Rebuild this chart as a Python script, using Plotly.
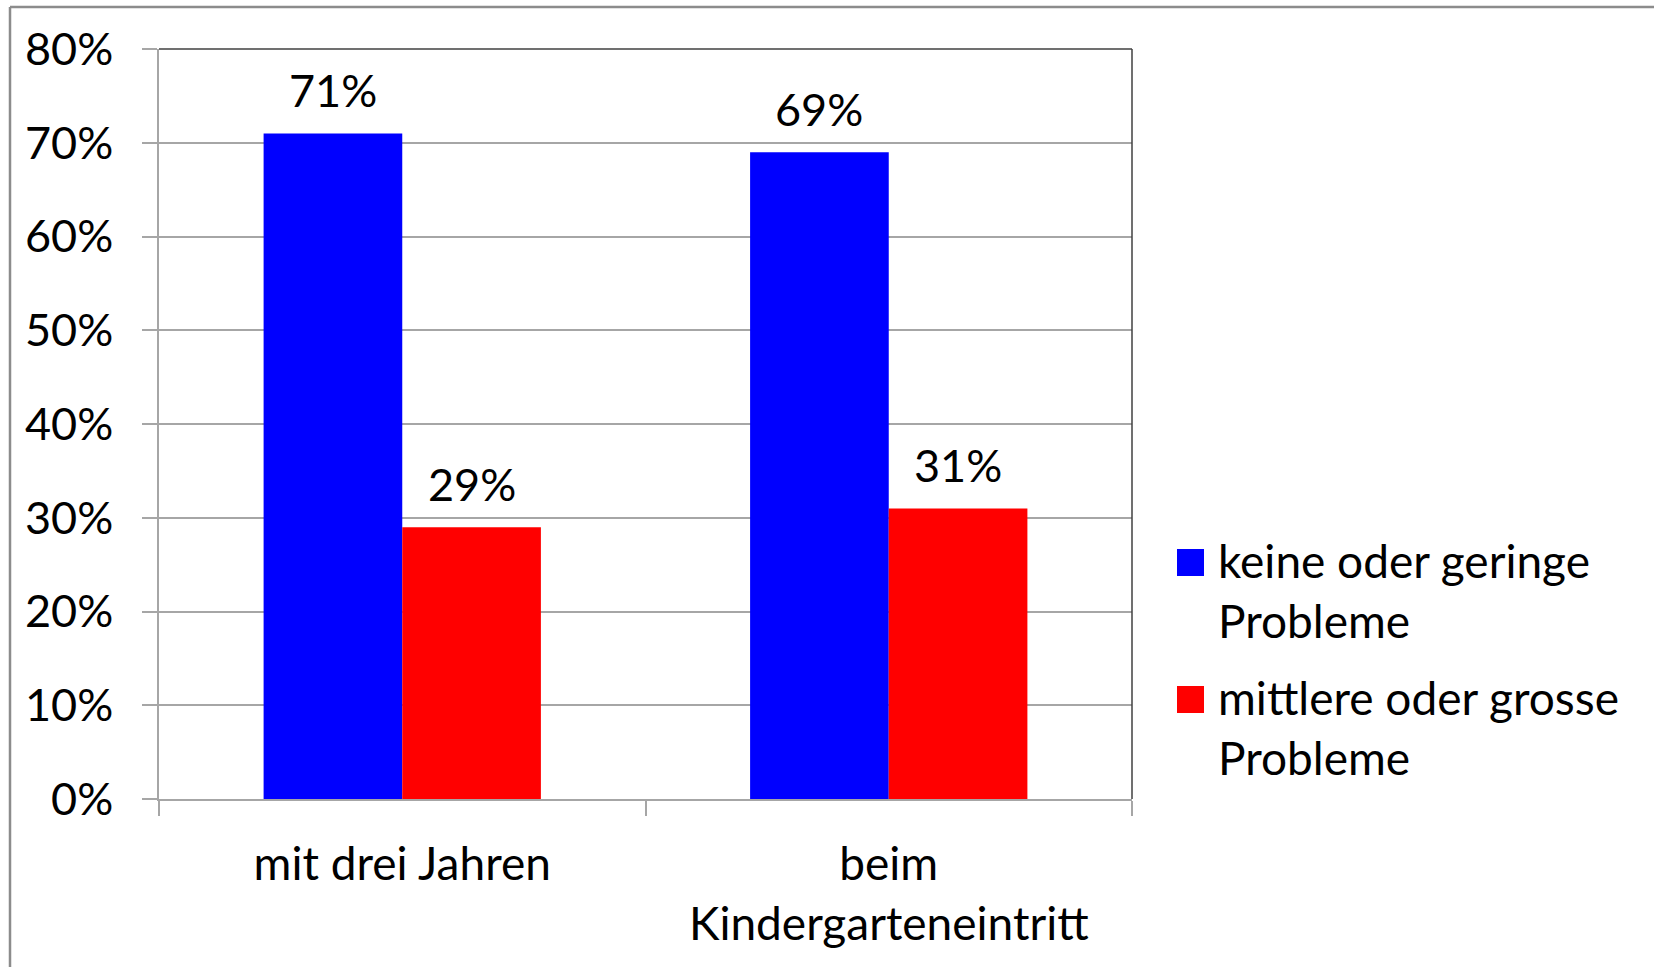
import plotly.graph_objects as go

categories = ["mit drei Jahren", "beim<br>Kindergarteneintritt"]
series_names = ["keine oder geringe<br>Probleme", "mittlere oder grosse<br>Probleme"]
values_low = [0.71, 0.69]
values_high = [0.29, 0.31]
colors = ["#0000FF", "#FF0000"]
y_ticks = [0, 0.1, 0.2, 0.3, 0.4, 0.5, 0.6, 0.7, 0.8]

FONT = "Lato"
FS = 46

W, H = 1654, 967
L, R, T, B = 159, 522, 49, 168
BARGAP = 0.43

fig = go.Figure()
for name, vals, col in zip(series_names, [values_low, values_high], colors):
    fig.add_trace(go.Bar(
        x=categories, y=vals, name=name, marker=dict(color=col, line=dict(width=0)),
        showlegend=False,
    ))

fig.update_layout(
    width=W, height=H,
    margin=dict(l=L, r=R, t=T, b=B),
    paper_bgcolor="white", plot_bgcolor="white",
    barmode="group", bargap=BARGAP, bargroupgap=0,
    font=dict(family=FONT, size=FS, color="black"),
    showlegend=False,
)
fig.update_yaxes(
    range=[0, 0.8], tickvals=y_ticks, tickformat=".0%",
    showgrid=True, gridcolor="#A6A6A6", gridwidth=1.5,
    showline=True, linecolor="#A6A6A6", linewidth=1.5,
    ticks="outside", ticklen=15, tickcolor="#A6A6A6", tickwidth=1.5,
    ticklabelstandoff=20, zeroline=False,
    tickfont=dict(family=FONT, size=FS - 1),
)
fig.update_xaxes(
    showline=True, linecolor="#A6A6A6", linewidth=1.5,
    ticks="outside", ticklen=15, tickcolor="#A6A6A6", tickwidth=1.5,
    tickson="boundaries", ticklabelstandoff=24, showgrid=False,
    tickfont=dict(family=FONT, size=FS),
)

pw = W - L - R
ph = H - T - B
def px(x):
    return (x - L) / pw
def py(y):
    return (H - B - y) / ph

shapes = []
# plot area frame top & right (dark)
shapes.append(dict(type="line", xref="paper", yref="paper", x0=0, x1=1, y0=1, y1=1,
                   line=dict(color="#404040", width=1.5)))
shapes.append(dict(type="line", xref="paper", yref="paper", x0=1, x1=1, y0=0, y1=1,
                   line=dict(color="#404040", width=1.5)))
# outer chart border (top & left only visible)
shapes.append(dict(type="line", xref="paper", yref="paper", x0=px(10), x1=px(W + 10), y0=py(7), y1=py(7),
                   line=dict(color="#8C8C8C", width=2.5)))
shapes.append(dict(type="line", xref="paper", yref="paper", x0=px(10), x1=px(10), y0=py(7), y1=py(H + 10),
                   line=dict(color="#8C8C8C", width=2.5)))

annotations = []
# data labels above each bar
bar_w = pw / len(categories) * (1 - BARGAP) / 2
for si, vals in enumerate([values_low, values_high]):
    offset = (si - 0.5) * bar_w
    for cat, v in zip(categories, vals):
        annotations.append(dict(x=cat, y=v, xref="x", yref="y", xshift=offset, yshift=14,
                                xanchor="center", yanchor="bottom", showarrow=False,
                                text=f"{v:.0%}", font=dict(family=FONT, size=FS - 1, color="black")))

# manual legend
legend_y = [549, 686]
for name, col, ly in zip(series_names, colors, legend_y):
    shapes.append(dict(type="rect", xref="paper", yref="paper",
                       x0=px(1177), x1=px(1204), y0=py(ly + 27), y1=py(ly),
                       fillcolor=col, line=dict(width=0)))
    annotations.append(dict(xref="paper", yref="paper", x=px(1216), y=py(ly - 18),
                            xanchor="left", yanchor="top", align="left", showarrow=False,
                            text=name, font=dict(family=FONT, size=FS, color="black")))

fig.update_layout(shapes=shapes, annotations=annotations)
fig.write_html("out.html")
